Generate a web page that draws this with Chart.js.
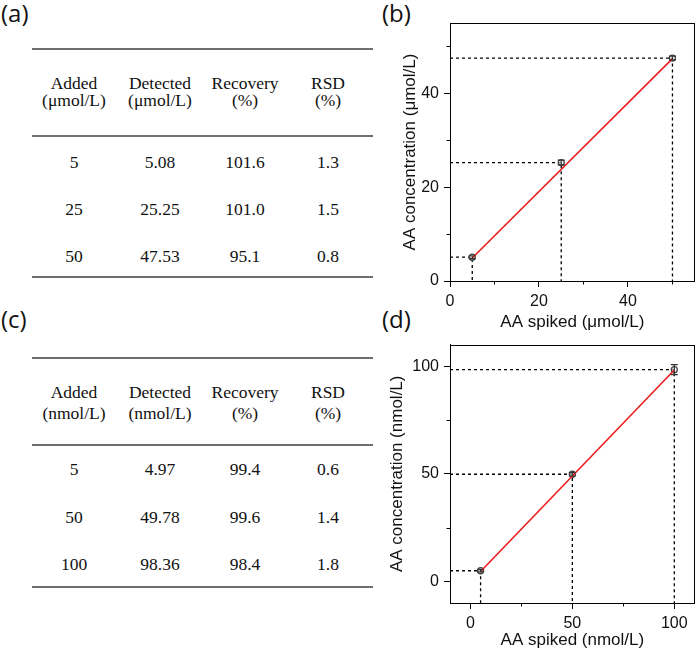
<!DOCTYPE html>
<html>
<head>
<meta charset="utf-8">
<script src="https://cdn.jsdelivr.net/npm/chart.js@4.4.0/dist/chart.umd.min.js"></script>
<style>
html,body{margin:0;padding:0;background:#fff;}
body{width:700px;height:652px;overflow:hidden;position:relative;}
.lbl{position:absolute;font-family:"Open Sans","Noto Sans",sans-serif;font-size:24px;line-height:26px;color:#111;}
.cell{position:absolute;font-family:"Liberation Serif","Times New Roman",serif;font-size:17.5px;line-height:20px;text-align:center;width:120px;white-space:nowrap;color:#111;}
.rule{position:absolute;left:32px;width:341px;height:2px;background:#6e6e6e;}
canvas{position:absolute;}
</style>
</head>
<body>
<div class="lbl" style="left:1px;top:0px;">(a)</div>
<div class="lbl" style="left:382px;top:0px;">(b)</div>
<div class="lbl" style="left:1px;top:306px;">(c)</div>
<div class="lbl" style="left:382px;top:306px;">(d)</div>
<div id="tables"></div>
<canvas id="chartB" width="320" height="340" style="left:380px;top:0px;"></canvas>
<canvas id="chartD" width="320" height="322" style="left:380px;top:330px;"></canvas>
<script>
// ---------- Table (a) ----------
const tableAHead1 = ['Added', 'Detected', 'Recovery', 'RSD'];
const tableAHead2 = ['(\u03bcmol/L)', '(\u03bcmol/L)', '(%)', '(%)'];
const tableAAdded = ['5', '25', '50'];
const tableADetected = ['5.08', '25.25', '47.53'];
const tableARecovery = ['101.6', '101.0', '95.1'];
const tableARSD = ['1.3', '1.5', '0.8'];

// ---------- Table (c) ----------
const tableCHead1 = ['Added', 'Detected', 'Recovery', 'RSD'];
const tableCHead2 = ['(nmol/L)', '(nmol/L)', '(%)', '(%)'];
const tableCAdded = ['5', '50', '100'];
const tableCDetected = ['4.97', '49.78', '98.36'];
const tableCRecovery = ['99.4', '99.6', '98.4'];
const tableCRSD = ['0.6', '1.4', '1.8'];

// ---------- Chart (b) ----------
const spikedB = [5, 25, 50];
const detectedB = [5.08, 25.25, 47.53];
const errorB = [0.3, 0.5, 0.4];
const fitXB = [5, 50];
const fitYB = [4.9, 47.4];
const tickValuesB = [0, 10, 20, 30, 40, 50];
const majorTicksB = [0, 20, 40];

// ---------- Chart (d) ----------
const spikedD = [5, 50, 100];
const detectedD = [4.97, 49.78, 98.36];
const errorD = [0.5, 0.8, 2.3];
const fitXD = [5, 100];
const fitYD = [4.6, 98.2];
const tickValuesD = [0, 25, 50, 75, 100];
const majorTicksD = [0, 50, 100];

// ---------- build tables ----------
const colX = [74, 160, 245, 328];
function buildTable(top, head1, head2, cols, rowY, rules) {
  const host = document.getElementById('tables');
  const add = (txt, cx, cy) => {
    const d = document.createElement('div');
    d.className = 'cell';
    d.textContent = txt;
    d.style.left = (cx - 60) + 'px';
    d.style.top = (cy - 10) + 'px';
    host.appendChild(d);
  };
  head1.forEach((t, i) => add(t, colX[i], top.h1));
  head2.forEach((t, i) => add(t, colX[i], top.h2));
  cols.forEach((col, i) => col.forEach((t, r) => add(t, colX[i], rowY[r])));
  rules.forEach(y => {
    const d = document.createElement('div');
    d.className = 'rule';
    d.style.top = (y - 1) + 'px';
    host.appendChild(d);
  });
}
buildTable({h1: 83, h2: 100},
  tableAHead1, tableAHead2,
  [tableAAdded, tableADetected, tableARecovery, tableARSD],
  [162, 209, 256], [49, 136, 277]);
buildTable({h1: 392, h2: 413},
  tableCHead1, tableCHead2,
  [tableCAdded, tableCDetected, tableCRecovery, tableCRSD],
  [469, 517, 564], [358, 445, 587]);

// ---------- chart decoration plugin ----------
const decor = {
  id: 'decor',
  beforeDatasetsDraw(chart, args, o) {
    const {ctx, chartArea: a, scales: {x, y}} = chart;
    ctx.save();
    ctx.setLineDash([3, 3]);
    ctx.strokeStyle = '#000';
    ctx.lineWidth = 1.3;
    o.xs.forEach((vx, i) => {
      const px = x.getPixelForValue(vx), py = y.getPixelForValue(o.ys[i]);
      ctx.beginPath();
      ctx.moveTo(a.left, py);
      ctx.lineTo(px, py);
      ctx.lineTo(px, a.bottom);
      ctx.stroke();
    });
    ctx.restore();
  },
  afterDatasetsDraw(chart, args, o) {
    const {ctx, scales: {x, y}} = chart;
    ctx.save();
    ctx.strokeStyle = '#333';
    ctx.lineWidth = 1.2;
    o.xs.forEach((vx, i) => {
      const px = x.getPixelForValue(vx);
      const p1 = y.getPixelForValue(o.ys[i] + o.err[i]);
      const p2 = y.getPixelForValue(o.ys[i] - o.err[i]);
      ctx.beginPath();
      ctx.moveTo(px, p1); ctx.lineTo(px, p2);
      ctx.moveTo(px - 3.5, p1); ctx.lineTo(px + 3.5, p1);
      ctx.moveTo(px - 3.5, p2); ctx.lineTo(px + 3.5, p2);
      ctx.stroke();
    });
    ctx.restore();
  },
  afterDraw(chart, args, o) {
    const {ctx, chartArea: a, scales: {x, y}} = chart;
    ctx.save();
    ctx.strokeStyle = '#000';
    ctx.lineWidth = 1;
    ctx.strokeRect(Math.round(a.left) + 0.5, Math.round(a.top) + 0.5,
      Math.round(a.right - a.left) - 1, Math.round(a.bottom - a.top));
    // minor ticks
    ctx.beginPath();
    o.ticks.forEach(v => {
      if (o.major.includes(v)) return;
      const px = Math.round(x.getPixelForValue(v)) + 0.5;
      ctx.moveTo(px, a.bottom); ctx.lineTo(px, a.bottom + 3.5);
      const py = Math.round(y.getPixelForValue(v)) + 0.5;
      ctx.moveTo(a.left, py); ctx.lineTo(a.left - 3.5, py);
    });
    ctx.stroke();
    ctx.restore();
  }
};

function makeChart(id, cfg) {
  const font = {family: '"Liberation Sans", Arial, sans-serif', size: 16};
  const tfont = {family: '"Liberation Sans", Arial, sans-serif', size: 17};
  const axis = (min, max, ticks, major, title, fitFn, titlePad) => ({
    type: 'linear', min, max,
    afterBuildTicks: s => { s.ticks = ticks.map(v => ({value: v})); },
    afterFit: fitFn,
    border: {display: true, color: '#000', width: 1},
    grid: {
      display: true, drawOnChartArea: false, drawTicks: true, tickLength: 6,
      lineWidth: 1,
      tickColor: c => (c.tick && major.includes(c.tick.value)) ? '#000' : 'rgba(0,0,0,0)'
    },
    ticks: {
      color: '#111', font, padding: 5, maxRotation: 0, autoSkip: false,
      callback: v => major.includes(v) ? String(v) : ''
    },
    title: {display: true, text: title, color: '#111', font: tfont, padding: titlePad}
  });
  return new Chart(document.getElementById(id), {
    type: 'scatter',
    data: {
      datasets: [
        {
          type: 'line',
          data: cfg.fitX.map((v, i) => ({x: v, y: cfg.fitY[i]})),
          borderColor: '#ee1c1c', borderWidth: 1.6, pointRadius: 0, fill: false, tension: 0
        },
        {
          data: cfg.xs.map((v, i) => ({x: v, y: cfg.ys[i]})),
          pointStyle: 'circle', pointRadius: 3, backgroundColor: 'rgba(255,255,255,0.6)',
          borderColor: '#444', borderWidth: 1.3
        }
      ]
    },
    options: {
      responsive: false, animation: false,
      layout: {padding: cfg.pad},
      plugins: {
        legend: {display: false}, tooltip: {enabled: false},
        decor: {xs: cfg.xs, ys: cfg.ys, err: cfg.err, ticks: cfg.ticks, major: cfg.major}
      },
      scales: {
        x: Object.assign(axis(cfg.xmin, cfg.xmax, cfg.ticks, cfg.major, cfg.xTitle,
              s => { s.height = cfg.xh; }, {top: 0, bottom: cfg.xtp}), {position: 'bottom'}),
        y: Object.assign(axis(cfg.ymin, cfg.ymax, cfg.ticks, cfg.major, cfg.yTitle,
              s => { s.width = cfg.yw; }, {top: cfg.ytp, bottom: 0}), {position: 'left'})
      }
    },
    plugins: [decor]
  });
}

makeChart('chartB', {
  xs: spikedB, ys: detectedB, err: errorB, fitX: fitXB, fitY: fitYB,
  ticks: tickValuesB, major: majorTicksB,
  xmin: 0, xmax: 55, ymin: 0, ymax: 55,
  xTitle: 'AA spiked (\u03bcmol/L)', yTitle: 'AA concentration (\u03bcmol/L)',
  pad: {top: 23, right: 4, left: 0, bottom: 0}, xh: 59, yw: 70, xtp: 7, ytp: 20
});
makeChart('chartD', {
  xs: spikedD, ys: detectedD, err: errorD, fitX: fitXD, fitY: fitYD,
  ticks: tickValuesD, major: majorTicksD,
  xmin: -10, xmax: 110, ymin: -10, ymax: 110,
  xTitle: 'AA spiked (nmol/L)', yTitle: 'AA concentration (nmol/L)',
  pad: {top: 13, right: 4, left: 0, bottom: 0}, xh: 49, yw: 70, xtp: 1, ytp: 7
});
</script>
</body>
</html>
